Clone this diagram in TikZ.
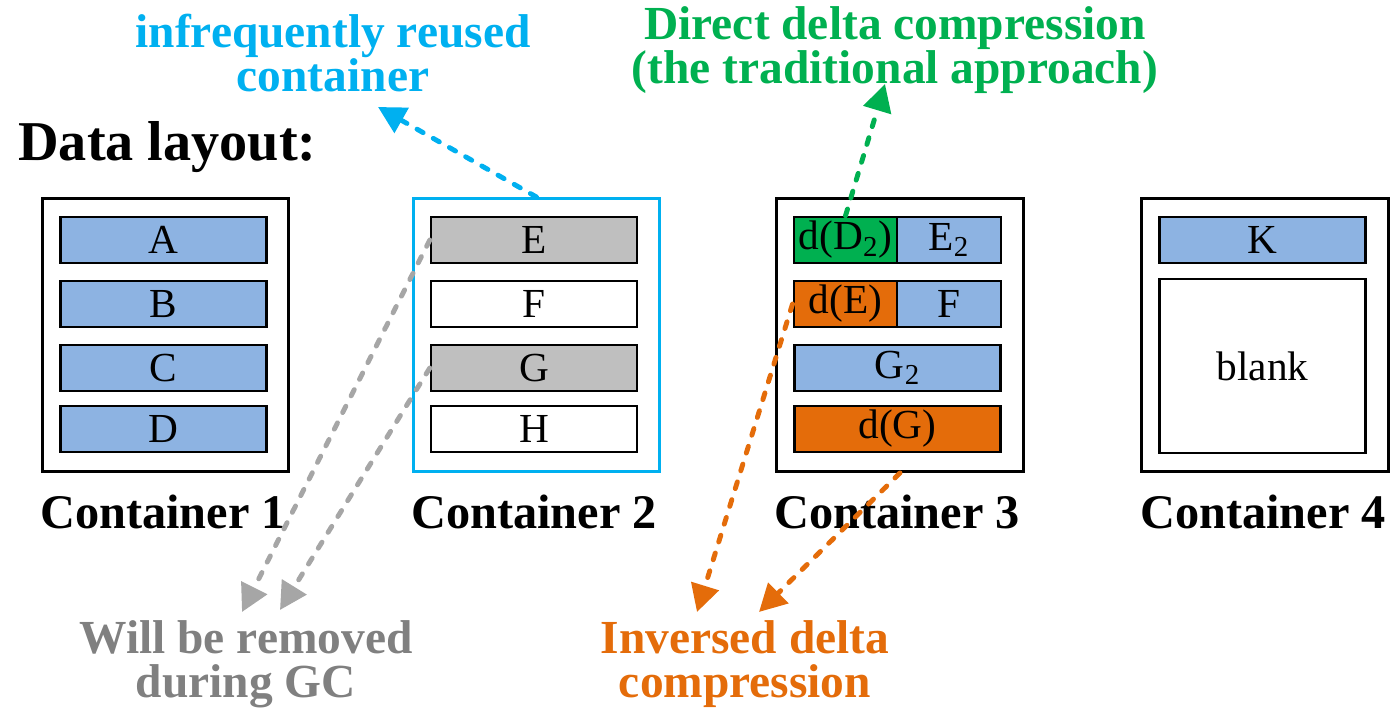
\documentclass[tikz,border=0pt]{standalone}
\usepackage{fontspec}
\setmainfont{Liberation Serif}
\usetikzlibrary{arrows.meta}

\definecolor{blockblue}{HTML}{8DB3E2}
\definecolor{deltagreen}{HTML}{00B050}
\definecolor{deltaorange}{HTML}{E46C0A}
\definecolor{stalegray}{HTML}{BFBFBF}
\definecolor{reusecyan}{HTML}{00B0F0}
\definecolor{gcarrow}{HTML}{A6A6A6}
\definecolor{gctext}{HTML}{808080}

\tikzset{
  container/.style={draw=black, line width=1.7pt, fill=white, inner sep=0pt,
    minimum width=4.94cm, minimum height=5.46cm},
  chunk/.style={draw=black, line width=1.4pt, inner sep=0pt,
    minimum width=4.12cm, minimum height=0.92cm,
    font=\fontsize{23.5}{27}\selectfont},
  halfchunk/.style={chunk, minimum width=2.07cm},
  caption/.style={inner sep=0pt, anchor=base, font=\fontsize{27.5}{30}\selectfont\bfseries},
  note/.style={inner sep=0pt, anchor=north, align=center,
    font=\fontsize{27}{25}\selectfont\bfseries},
  pointer/.style={line width=2.8pt, line cap=round, dash pattern=on 4pt off 6.6pt,
    -{Triangle[length=15.5pt,width=16pt]}}
}

\begin{document}
\begin{tikzpicture}[x=0.02cm, y=-0.02cm]
\useasboundingbox (0,0) rectangle (1390,710);

% title
\node[anchor=base west, inner sep=0pt, font=\fontsize{32}{36}\selectfont\bfseries]
  (title) at (18,160) {Data layout:};

% containers
\node[container] (c1) at (165.5,335) {};
\node[container, draw=reusecyan] (c2) at (536.5,335) {};
\node[container] (c3) at (900,335) {};
\node[container] (c4) at (1265,335) {};

% container 1
\node[chunk, fill=blockblue] (a) at (163.5,240) {A};
\node[chunk, fill=blockblue] (b) at (163.5,304) {B};
\node[chunk, fill=blockblue] (c) at (163.5,368) {C};
\node[chunk, fill=blockblue] (d) at (163.5,429) {D};

% container 2
\node[chunk, fill=stalegray] (e) at (534,240) {E};
\node[chunk, fill=white] (f) at (534,304) {F};
\node[chunk, fill=stalegray] (g) at (534,368) {G};
\node[chunk, fill=white] (h) at (534,429) {H};

% container 3
\node[halfchunk, fill=deltagreen] (dd2) at (845.5,240) {d(D\textsubscript{2})};
\node[halfchunk, fill=blockblue] (e2) at (949,240) {E\textsubscript{2}};
\node[halfchunk, fill=deltaorange] (de) at (845.5,304) {d(E)};
\node[halfchunk, fill=blockblue] (f3) at (949,304) {F};
\node[chunk, fill=blockblue] (g2) at (897.5,368) {G\textsubscript{2}};
\node[chunk, fill=deltaorange] (dg) at (897.5,429) {d(G)};

% container 4
\node[chunk, fill=blockblue] (k) at (1262.5,240) {K};
\node[chunk, fill=white, minimum height=3.48cm] (blank) at (1262.5,366) {blank};

% container captions
\node[caption] (l1) at (163,528) {Container 1};
\node[caption] (l2) at (534,528) {Container 2};
\node[caption] (l3) at (897,528) {Container 3};
\node[caption] (l4) at (1263,528) {Container 4};

% annotations
\node[note, text=reusecyan] (reuse) at (333,14) {infrequently reused\\container};
\node[note, text=deltagreen] (direct) at (895,6) {Direct delta compression\\(the traditional approach)};
\node[note, text=gctext] (gc) at (246,620) {Will be removed\\during GC};
\node[note, text=deltaorange] (inverse) at (745,620) {Inversed delta\\compression};

% arrow tips
\coordinate (reusetip) at (378,107);
\coordinate (directtip) at (885,84);
\coordinate (gctipa) at (242,612);
\coordinate (gctipb) at (280,610);
\coordinate (invtipa) at (697,612);
\coordinate (invtipb) at (759,612);

% connectors
\draw[pointer, reusecyan] (c2.north) -- (reusetip);
\draw[pointer, deltagreen] (dd2.north) -- (directtip);
\draw[pointer, gcarrow] (e.west) -- (gctipa);
\draw[pointer, gcarrow] (g.west) -- (gctipb);
\draw[pointer, deltaorange] (de.west) -- (invtipa);
\draw[pointer, deltaorange] (c3.south) -- (invtipb);
\end{tikzpicture}
\end{document}
